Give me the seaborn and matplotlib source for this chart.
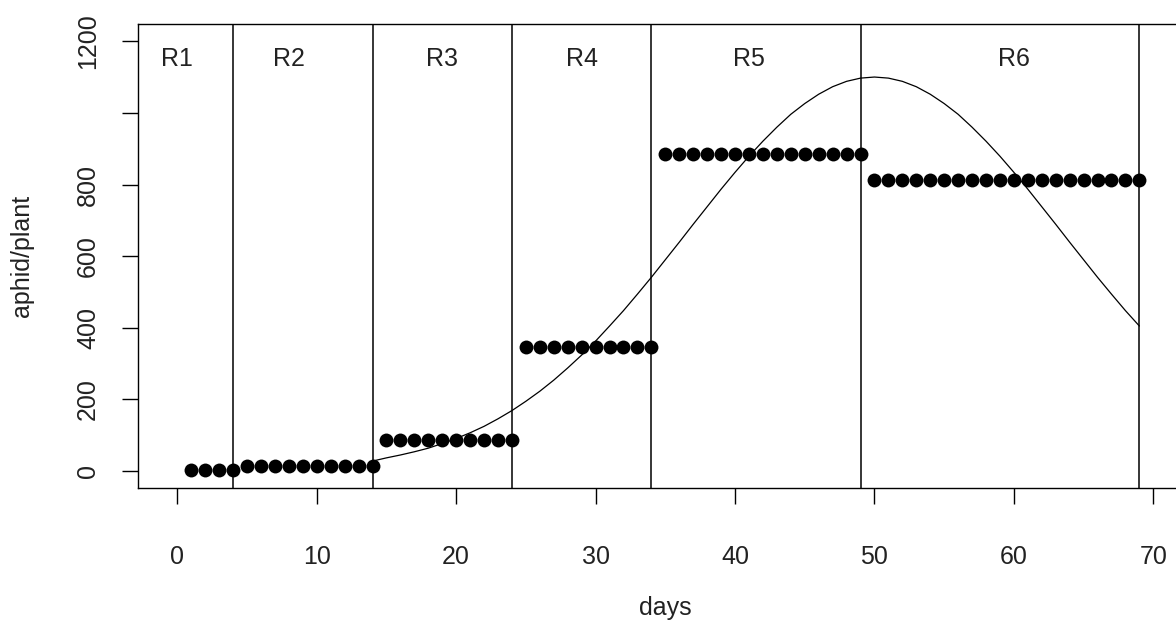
import numpy as np
import pandas as pd
import matplotlib
matplotlib.use('Agg')
import matplotlib.pyplot as plt
import seaborn as sns

# === Datos ===
etapas = ['R1', 'R2', 'R3', 'R4', 'R5', 'R6']
dia_inicio = [1, 5, 15, 25, 35, 50]
dia_fin = [4, 14, 24, 34, 49, 69]
afidos_etapa = [4, 14, 88, 347, 886, 813]
limites_etapa = [4, 14, 24, 34, 49, 69]
pos_etiqueta = [0, 8, 19, 29, 41, 60]

dias_curva = list(range(14, 70))
afidos_curva = [28, 37, 45, 54, 64, 77, 91, 107, 125, 146, 169, 195, 223, 254,
                288, 324, 363, 405, 448, 494, 541, 590, 639, 689, 738, 787, 834,
                879, 921, 960, 996, 1026, 1052, 1073, 1088, 1097, 1100, 1097,
                1088, 1073, 1052, 1026, 996, 960, 921, 879, 834, 787, 738, 689,
                639, 590, 541, 494, 448, 405]

# === Tabla de puntos por dia ===
n_dias = [f - i + 1 for i, f in zip(dia_inicio, dia_fin)]
puntos = pd.DataFrame({
    'dia': np.concatenate([np.arange(i, f + 1) for i, f in zip(dia_inicio, dia_fin)]),
    'afidos': np.repeat(afidos_etapa, n_dias),
})
curva = pd.DataFrame({'dia': dias_curva, 'afidos': afidos_curva})

sns.set_theme(style='ticks')
plt.rcParams['font.family'] = ['Liberation Sans', 'DejaVu Sans']

fig = plt.figure(figsize=(11.76, 6.27), dpi=100)
ax = fig.add_axes([0.1176, 0.2212, 0.8963, 0.7405])

for x in limites_etapa:
    ax.axvline(x, color='black', lw=1.1, zorder=1)

sns.lineplot(data=curva, x='dia', y='afidos', color='black', lw=0.9,
             estimator=None, sort=False, ax=ax, zorder=2)
sns.scatterplot(data=puntos, x='dia', y='afidos', color='black', s=100,
                linewidth=0, ax=ax, zorder=3)

for etiqueta, x in zip(etapas, pos_etiqueta):
    ax.text(x, 1150, etiqueta, ha='center', va='center', fontsize=18, color='#222222')

ax.set_xlim(-2.8, 72.8)
ax.set_ylim(-48, 1248)
ax.set_xticks(range(0, 71, 10))
ax.set_yticks(range(0, 1201, 200))
ax.set_yticklabels(['0', '200', '400', '600', '800', '', '1200'], rotation=90, va='center')
ax.tick_params(axis='both', length=11.5, width=1, labelsize=18, colors='black',
               labelcolor='#222222')
ax.tick_params(axis='x', pad=29)
ax.tick_params(axis='y', pad=16)
ax.set_xlabel('days', fontsize=18, color='#222222', labelpad=20)
ax.set_ylabel('aphid/plant', fontsize=18, color='#222222', labelpad=30)
for s in ax.spines.values():
    s.set_color('black')
    s.set_linewidth(1)

fig.savefig('out.png', dpi=100)
